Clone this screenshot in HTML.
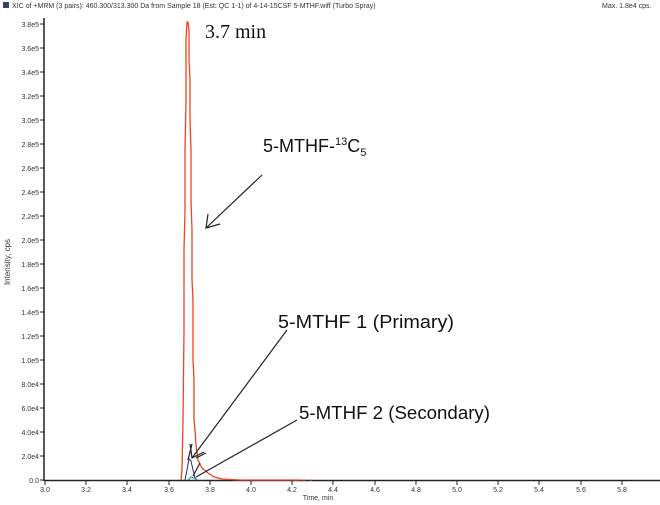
<!DOCTYPE html>
<html><head><style>
body{margin:0;background:#fff;}
svg{display:block;}
.t{font-family:"Liberation Sans",sans-serif;font-size:7px;fill:#333;}
</style></head><body>
<svg width="660" height="505" viewBox="0 0 660 505" xmlns="http://www.w3.org/2000/svg">
<rect x="3" y="2" width="6" height="6" fill="#334466"/>
<text x="12" y="8" class="t">XIC of +MRM (3 pairs): 460.300/313.300 Da  from Sample 18 (Est: QC 1-1) of 4-14-15CSF 5-MTHF.wiff (Turbo Spray)</text>
<text x="602" y="8" class="t">Max. 1.8e4 cps.</text>
<text transform="translate(10,262) rotate(-90)" class="t" text-anchor="middle" style="font-size:8px">Intensity, cps</text>
<text x="318" y="500" class="t" text-anchor="middle">Time, min</text>
<g stroke="#222" stroke-width="1.5" fill="none">
<line x1="44" y1="18" x2="44" y2="481"/>
<line x1="44" y1="480.5" x2="660" y2="480.5"/>
</g>
<g stroke="#222" stroke-width="1">
<line x1="40" y1="480" x2="44" y2="480"/><line x1="40" y1="456" x2="44" y2="456"/><line x1="40" y1="432" x2="44" y2="432"/><line x1="40" y1="408" x2="44" y2="408"/><line x1="40" y1="384" x2="44" y2="384"/><line x1="40" y1="360" x2="44" y2="360"/><line x1="40" y1="336" x2="44" y2="336"/><line x1="40" y1="312" x2="44" y2="312"/><line x1="40" y1="288" x2="44" y2="288"/><line x1="40" y1="264" x2="44" y2="264"/><line x1="40" y1="240" x2="44" y2="240"/><line x1="40" y1="216" x2="44" y2="216"/><line x1="40" y1="192" x2="44" y2="192"/><line x1="40" y1="168" x2="44" y2="168"/><line x1="40" y1="144" x2="44" y2="144"/><line x1="40" y1="120" x2="44" y2="120"/><line x1="40" y1="96" x2="44" y2="96"/><line x1="40" y1="72" x2="44" y2="72"/><line x1="40" y1="48" x2="44" y2="48"/><line x1="40" y1="24" x2="44" y2="24"/>
</g>
<g class="t" text-anchor="end">
<text x="39" y="483">0.0</text><text x="39" y="459">2.0e4</text><text x="39" y="435">4.0e4</text><text x="39" y="411">6.0e4</text><text x="39" y="387">8.0e4</text><text x="39" y="363">1.0e5</text><text x="39" y="339">1.2e5</text><text x="39" y="315">1.4e5</text><text x="39" y="291">1.6e5</text><text x="39" y="267">1.8e5</text><text x="39" y="243">2.0e5</text><text x="39" y="219">2.2e5</text><text x="39" y="195">2.4e5</text><text x="39" y="171">2.6e5</text><text x="39" y="147">2.8e5</text><text x="39" y="123">3.0e5</text><text x="39" y="99">3.2e5</text><text x="39" y="75">3.4e5</text><text x="39" y="51">3.6e5</text><text x="39" y="27">3.8e5</text>
</g>
<g stroke="#222" stroke-width="1">
<line x1="45" y1="480" x2="45" y2="485"/><line x1="86" y1="480" x2="86" y2="485"/><line x1="127" y1="480" x2="127" y2="485"/><line x1="169" y1="480" x2="169" y2="485"/><line x1="210" y1="480" x2="210" y2="485"/><line x1="251" y1="480" x2="251" y2="485"/><line x1="292" y1="480" x2="292" y2="485"/><line x1="333" y1="480" x2="333" y2="485"/><line x1="375" y1="480" x2="375" y2="485"/><line x1="416" y1="480" x2="416" y2="485"/><line x1="457" y1="480" x2="457" y2="485"/><line x1="498" y1="480" x2="498" y2="485"/><line x1="539" y1="480" x2="539" y2="485"/><line x1="581" y1="480" x2="581" y2="485"/><line x1="622" y1="480" x2="622" y2="485"/>
</g>
<g class="t" text-anchor="middle">
<text x="45" y="492">3.0</text><text x="86" y="492">3.2</text><text x="127" y="492">3.4</text><text x="169" y="492">3.6</text><text x="210" y="492">3.8</text><text x="251" y="492">4.0</text><text x="292" y="492">4.2</text><text x="333" y="492">4.4</text><text x="375" y="492">4.6</text><text x="416" y="492">4.8</text><text x="457" y="492">5.0</text><text x="498" y="492">5.2</text><text x="539" y="492">5.4</text><text x="581" y="492">5.6</text><text x="622" y="492">5.8</text>
</g>
<polyline fill="none" stroke="#ee4422" stroke-width="1.3" points="181,480 182,470 183,420 184,330 184,250 185,210 185,150 186,100 186,40 187,22 188,22 189,30 189,60 190,80 190,120 191,150 191,200 192,230 192,280 193,300 193,360 194,380 194,420 195,430 196,445 198,460 202,468 208,473 214,477 222,479 240,480 300,480"/>
<line x1="285" y1="480" x2="312" y2="480" stroke="#ee4422" stroke-width="1" stroke-dasharray="5,3"/>
<polyline fill="none" stroke="#223366" stroke-width="1" points="185,480 187,470 189,459 191,461 193,470 195,478 197,480"/>
<polyline fill="none" stroke="#2288aa" stroke-width="1" points="188,480 191,477 194,478 197,480"/>
<g stroke="#222" stroke-width="1.2" fill="none">
<line x1="262" y1="175" x2="206" y2="228"/><polyline points="208,214 206,228 220,224"/>
<line x1="287" y1="330" x2="192" y2="458"/><polyline points="190,444 192,458 204,452"/>
<line x1="297" y1="420" x2="196" y2="477"/>
<line x1="192" y1="444" x2="188" y2="460"/><line x1="196" y1="458" x2="206" y2="453"/>
<line x1="200" y1="463" x2="193" y2="476"/>
</g>
<text x="205" y="38" style="font-family:'Liberation Serif',serif;font-size:20px" fill="#111">3.7 min</text>
<text x="263" y="152" style="font-family:'Liberation Sans',sans-serif;font-size:18px" fill="#111">5-MTHF-<tspan dy="-7" style="font-size:11px">13</tspan><tspan dy="7">C</tspan><tspan dy="4" style="font-size:11px">5</tspan></text>
<text x="278" y="328" textLength="176" lengthAdjust="spacingAndGlyphs" style="font-family:'Liberation Sans',sans-serif;font-size:18px" fill="#111">5-MTHF 1 (Primary)</text>
<text x="299" y="419" textLength="191" lengthAdjust="spacingAndGlyphs" style="font-family:'Liberation Sans',sans-serif;font-size:18px" fill="#111">5-MTHF 2 (Secondary)</text>
</svg>
</body></html>
